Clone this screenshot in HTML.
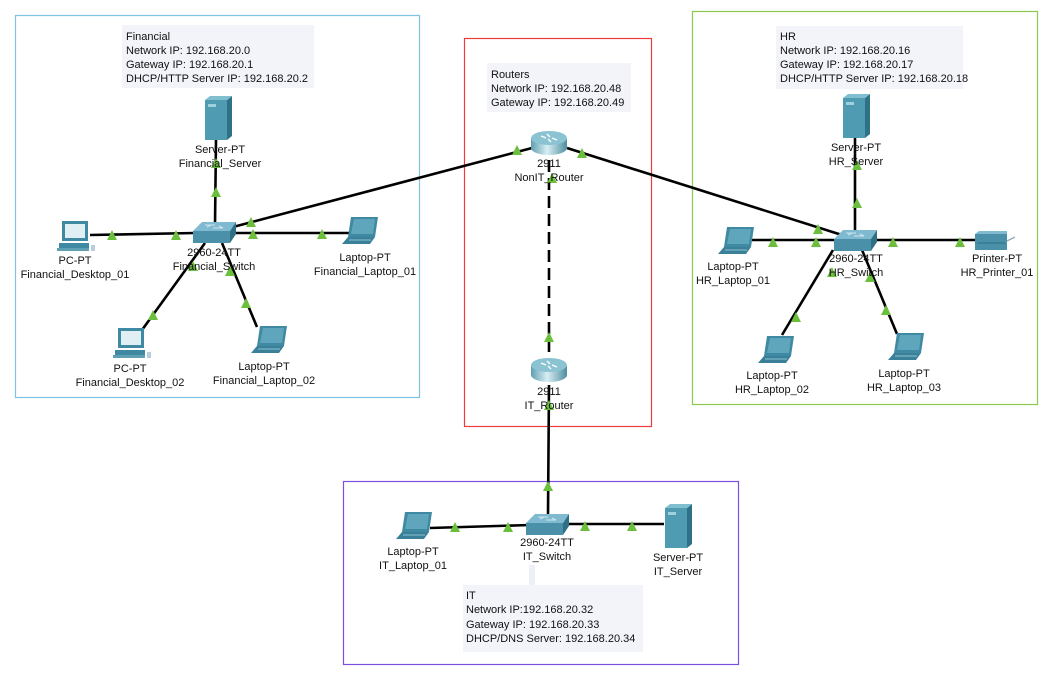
<!DOCTYPE html>
<html><head><meta charset="utf-8"><style>
html,body{margin:0;padding:0;background:#fff;}
svg{display:block;}
text{font-family:"Liberation Sans",sans-serif;font-size:11px;fill:#111;}
</style></head><body>
<svg width="1051" height="682" viewBox="0 0 1051 682" xmlns="http://www.w3.org/2000/svg">
<defs>
<linearGradient id="rg" x1="0" x2="1"><stop offset="0" stop-color="#5f9fb0"/><stop offset="0.45" stop-color="#d8eef4"/><stop offset="1" stop-color="#4f8ea0"/></linearGradient>
<g id="server"><rect x="0" y="4" width="22" height="40" fill="#4f9bb2"/><polygon points="22,4 27,0 27,40 22,44" fill="#2f7288"/><polygon points="0,4 5,0 27,0 22,4" fill="#7fbfd0"/><rect x="3" y="8" width="8" height="3" fill="#9fd0de"/></g>
<g id="switch"><polygon points="0,9 9,0 43,0 37,9" fill="#7fbad0"/><rect x="0" y="9" width="37" height="12" fill="#4a90a8"/><polygon points="37,9 43,0 43,12 37,21" fill="#2f6f86"/><path d="M12 3h10M20 6h10M14 5l4-2M26 4l4 2" stroke="#cfe6ee" stroke-width="1"/></g>
<g id="laptop"><polygon points="5,0 32,0 29,20 2,20" fill="#3f8aa2"/><polygon points="8,2 29,2 27,17 5,17" fill="#5fa6bc"/><polygon points="2,20 29,20 24,27 -4,27" fill="#3a8098"/><line x1="3" y1="23" x2="25" y2="23" stroke="#8cc4d4"/></g>
<g id="pc"><rect x="3" y="0" width="26" height="20" fill="#3f8aa2"/><rect x="6" y="3" width="20" height="14" fill="#dfeff4"/><rect x="0" y="22" width="30" height="5" fill="#3f8aa2"/><rect x="-2" y="27" width="32" height="3" fill="#5fa0b5"/><rect x="32" y="24" width="4" height="6" fill="#bcd" /></g>
<g id="router"><rect x="0" y="8" width="36" height="10" fill="url(#rg)"/><ellipse cx="18" cy="18" rx="18" ry="7" fill="url(#rg)"/><ellipse cx="18" cy="8" rx="18" ry="7" fill="#8cc3d2"/><path d="M10 6l5 2M26 10l-5-2M16 4l3 3M20 12l-3-3" stroke="#fff" stroke-width="1.3"/></g>
<g id="printer"><rect x="0" y="3" width="32" height="16" fill="#4a90a8"/><polygon points="0,3 4,0 32,0 32,3" fill="#7fbad0"/><path d="M32 10l8-4" stroke="#9ab" stroke-width="1.5"/><line x1="2" y1="12" x2="30" y2="12" stroke="#2f6f86"/></g>
<polygon id="t" points="-5,5 0,-5 5,5" fill="#6cbf3c"/>
</defs>

<!-- zones -->
<rect x="15.5" y="15.5" width="404" height="382" fill="none" stroke="#7ec3e3" stroke-width="1.2"/>
<rect x="464.5" y="38.5" width="187" height="388" fill="none" stroke="#ee3b3b" stroke-width="1.2"/>
<rect x="692.5" y="11.5" width="345" height="393" fill="none" stroke="#8cc94f" stroke-width="1.2"/>
<rect x="343.5" y="481.5" width="395" height="183" fill="none" stroke="#7b4fe0" stroke-width="1.2"/>

<!-- info boxes -->
<rect x="122" y="25" width="192" height="63" fill="#f2f4fa"/>
<text x="126" y="40">Financial</text><text x="126" y="54">Network IP: 192.168.20.0</text><text x="126" y="68">Gateway IP: 192.168.20.1</text><text x="126" y="82">DHCP/HTTP Server IP: 192.168.20.2</text>
<rect x="487" y="63" width="144" height="49" fill="#f2f4fa"/>
<text x="491" y="78">Routers</text><text x="491" y="92">Network IP: 192.168.20.48</text><text x="491" y="106">Gateway IP: 192.168.20.49</text>
<rect x="776" y="26" width="187" height="63" fill="#f2f4fa"/>
<text x="780" y="40">HR</text><text x="780" y="54">Network IP: 192.168.20.16</text><text x="780" y="68">Gateway IP: 192.168.20.17</text><text x="780" y="82">DHCP/HTTP Server IP: 192.168.20.18</text>
<rect x="529" y="565" width="6" height="20" fill="#eef0f7"/>
<rect x="463" y="585" width="180" height="67" fill="#f2f4fa"/>
<text x="466" y="599">IT</text><text x="466" y="613">Network IP:192.168.20.32</text><text x="466" y="628">Gateway IP: 192.168.20.33</text><text x="466" y="642">DHCP/DNS Server: 192.168.20.34</text>

<!-- links -->
<g stroke="#000" stroke-width="2.6" fill="none">
<line x1="216" y1="140" x2="215" y2="225"/>
<line x1="90" y1="235" x2="195" y2="233"/>
<line x1="235" y1="233" x2="355" y2="233"/>
<line x1="233" y1="227" x2="532" y2="148"/>
<line x1="205" y1="243" x2="142" y2="330"/>
<line x1="222" y1="243" x2="257" y2="327"/>
<line x1="567" y1="148" x2="842" y2="235"/>
<line x1="855" y1="135" x2="855" y2="232"/>
<line x1="752" y1="240" x2="838" y2="240"/>
<line x1="872" y1="240" x2="975" y2="240"/>
<line x1="833" y1="250" x2="782" y2="335"/>
<line x1="862" y1="250" x2="897" y2="334"/>
<line x1="549" y1="385" x2="548" y2="515"/>
<line x1="430" y1="528" x2="530" y2="525"/>
<line x1="565" y1="524" x2="664" y2="524"/>
<line x1="549" y1="160" x2="549" y2="356" stroke-dasharray="12,6"/>
</g>

<!-- devices -->
<use href="#server" x="205" y="96"/>
<use href="#switch" x="193" y="222"/>
<use href="#pc" x="59" y="221"/>
<use href="#laptop" x="346" y="217"/>
<use href="#pc" x="115" y="328"/>
<use href="#laptop" x="255" y="326"/>
<use href="#router" x="531" y="130"/>
<use href="#router" x="531" y="357"/>
<use href="#server" x="843" y="94"/>
<use href="#switch" x="834" y="230"/>
<use href="#laptop" x="722" y="227"/>
<use href="#printer" x="975" y="231"/>
<use href="#laptop" x="762" y="336"/>
<use href="#laptop" x="892" y="333"/>
<use href="#switch" x="526" y="514"/>
<use href="#laptop" x="400" y="512"/>
<use href="#server" x="665" y="504"/>

<!-- triangles -->
<use href="#t" x="216" y="163"/><use href="#t" x="216" y="192"/>
<use href="#t" x="112" y="235"/><use href="#t" x="176" y="235"/>
<use href="#t" x="322" y="234"/><use href="#t" x="253" y="234"/><use href="#t" x="251" y="222"/>
<use href="#t" x="153" y="315"/><use href="#t" x="193" y="266"/>
<use href="#t" x="230" y="271"/><use href="#t" x="246" y="303"/>
<use href="#t" x="517" y="150"/><use href="#t" x="582" y="153"/>
<use href="#t" x="552" y="178"/><use href="#t" x="549" y="337"/>
<use href="#t" x="549" y="405"/><use href="#t" x="548" y="486"/>
<use href="#t" x="857" y="165"/><use href="#t" x="857" y="203"/>
<use href="#t" x="773" y="242"/><use href="#t" x="816" y="242"/><use href="#t" x="818" y="229"/>
<use href="#t" x="893" y="242"/><use href="#t" x="960" y="242"/>
<use href="#t" x="796" y="317"/><use href="#t" x="832" y="272"/>
<use href="#t" x="886" y="310"/><use href="#t" x="870" y="277"/>
<use href="#t" x="455" y="527"/><use href="#t" x="508" y="527"/>
<use href="#t" x="585" y="526"/><use href="#t" x="632" y="526"/>

<!-- labels -->
<g text-anchor="middle">
<text x="220" y="153">Server-PT</text><text x="220" y="167">Financial_Server</text>
<text x="214" y="256">2960-24TT</text><text x="214" y="270">Financial_Switch</text>
<text x="75" y="264">PC-PT</text><text x="75" y="278">Financial_Desktop_01</text>
<text x="365" y="261">Laptop-PT</text><text x="365" y="275">Financial_Laptop_01</text>
<text x="130" y="372">PC-PT</text><text x="130" y="386">Financial_Desktop_02</text>
<text x="264" y="370">Laptop-PT</text><text x="264" y="384">Financial_Laptop_02</text>
<text x="549" y="167">2911</text><text x="549" y="181">NonIT_Router</text>
<text x="549" y="395">2911</text><text x="549" y="409">IT_Router</text>
<text x="856" y="151">Server-PT</text><text x="856" y="165">HR_Server</text>
<text x="856" y="262">2960-24TT</text><text x="856" y="276">HR_Switch</text>
<text x="733" y="270">Laptop-PT</text><text x="733" y="284">HR_Laptop_01</text>
<text x="997" y="262">Printer-PT</text><text x="997" y="276">HR_Printer_01</text>
<text x="772" y="379">Laptop-PT</text><text x="772" y="393">HR_Laptop_02</text>
<text x="904" y="377">Laptop-PT</text><text x="904" y="391">HR_Laptop_03</text>
<text x="547" y="546">2960-24TT</text><text x="547" y="560">IT_Switch</text>
<text x="413" y="555">Laptop-PT</text><text x="413" y="569">IT_Laptop_01</text>
<text x="678" y="561">Server-PT</text><text x="678" y="575">IT_Server</text>
</g>
</svg>
</body></html>
